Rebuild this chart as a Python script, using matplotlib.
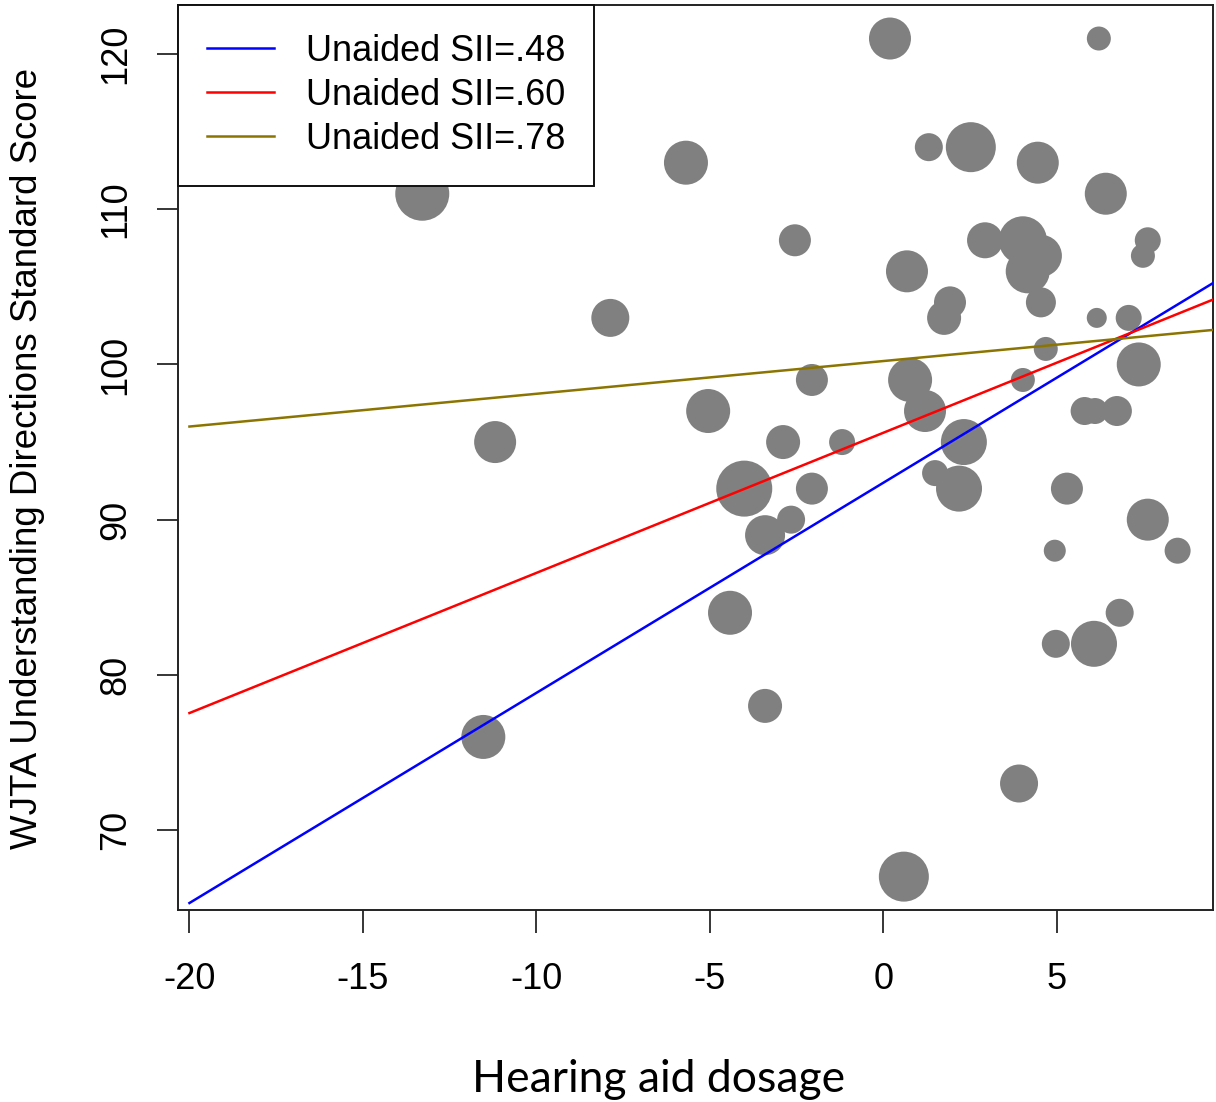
import numpy as np
import matplotlib
matplotlib.use('Agg')
import matplotlib.pyplot as plt

plt.rcParams['axes.unicode_minus'] = False

# hearing aid dosage vs WJTA score, bubble size = weight
dosage = [-9.08, -5.69, -13.29, -7.87, -11.19, 0.19, 6.21, 1.31, 2.52, 4.45,
          6.41, -2.55, 2.93, 4.02, 4.54, 4.16, 7.62, 7.48, 0.68, 1.92,
          1.75, 4.54, 6.15, 7.07, 4.68, 7.36, -2.06, 0.77, 4.02, 1.20,
          -5.05, 5.80, 6.10, 6.73, -2.89, -1.19, 2.32, -4.01, -2.06, -3.41,
          -2.66, 1.49, 2.18, -4.42, -3.41, 5.29, 7.62, 4.94, 8.48, 6.81,
          6.07, 4.97, 3.91, 0.59, -11.53]
score = [114, 113, 111, 103, 95, 121, 121, 114, 114, 113,
         111, 108, 108, 108, 107, 106, 108, 107, 106, 104,
         103, 104, 103, 103, 101, 100, 99, 99, 99, 97,
         97, 97, 97, 97, 95, 95, 95, 92, 92, 89,
         90, 93, 92, 84, 78, 92, 90, 88, 88, 84,
         82, 82, 73, 67, 76]
weight = [2.2, 2.2, 2.7, 1.9, 2.1, 2.1, 1.2, 1.4, 2.5, 2.1,
          2.1, 1.6, 1.8, 2.4, 2.1, 2.2, 1.3, 1.2, 2.1, 1.6,
          1.7, 1.5, 1.0, 1.3, 1.2, 2.2, 1.6, 2.2, 1.2, 2.1,
          2.2, 1.4, 1.3, 1.5, 1.7, 1.3, 2.3, 2.8, 1.6, 2.0,
          1.4, 1.3, 2.3, 2.2, 1.7, 1.6, 2.1, 1.1, 1.3, 1.4,
          2.3, 1.4, 1.9, 2.5, 2.2]

# fitted lines at three unaided SII levels
sii_labels = ['Unaided SII=.48', 'Unaided SII=.60', 'Unaided SII=.78']
intercepts = [92.38, 95.60, 100.22]
slopes = [1.354, 0.903, 0.211]
line_colors = ['#0000FF', '#FF0000', '#8B7500']

DPI = 100
fig = plt.figure(figsize=(12.16, 11.02), dpi=DPI)
ax = fig.add_axes([178/1216, 1 - 910/1102, (1213 - 178)/1216, (910 - 5)/1102])

# weight -> radius in px (x10), then to points^2
rad_pt = np.array(weight) * 10 * 72 / DPI
ax.scatter(dosage, score, s=(2 * rad_pt) ** 2, color='#808080',
           edgecolors='none', zorder=2)

xx = np.array([-20, 12])
for lab, b, m, c in zip(sii_labels, intercepts, slopes, line_colors):
    ax.plot(xx, b + m * xx, color=c, lw=1.8, label=lab, zorder=3)

ax.set_xlim(-20.33, 9.50)
ax.set_ylim(64.85, 123.16)
ax.set_xticks([-20, -15, -10, -5, 0, 5])
ax.set_yticks([70, 80, 90, 100, 110, 120])

for sp in ax.spines.values():
    sp.set_linewidth(1.4)
    sp.set_color('#222222')

tick_font = 'Liberation Sans'
ax.tick_params(axis='x', length=16.5, width=1.1, pad=21, labelsize=26)
ax.tick_params(axis='y', length=15, width=1.1, pad=17, labelsize=26,
               labelrotation=90)
for t in ax.get_xticklabels() + ax.get_yticklabels():
    t.set_fontfamily(tick_font)
for t in ax.get_yticklabels():
    t.set_va('center')

leg = ax.legend(loc='upper left', bbox_to_anchor=(0, 1), borderaxespad=0,
                prop={'family': tick_font, 'size': 26}, handlelength=1.85,
                handletextpad=0.9, borderpad=0.8, labelspacing=0.25,
                fancybox=False, framealpha=1, edgecolor='#111111')
leg.get_frame().set_linewidth(1.4)
leg.set_zorder(5)

fig.text(28/1216, 1 - 458/1102, 'WJTA Understanding Directions Standard Score',
         rotation=90, ha='center', va='center', fontsize=26.4,
         family=tick_font)
fig.text(659/1216, 1 - 1080/1102, 'Hearing aid dosage', ha='center',
         va='center', fontsize=32, family='Lato')

fig.savefig('out.png', dpi=DPI)
